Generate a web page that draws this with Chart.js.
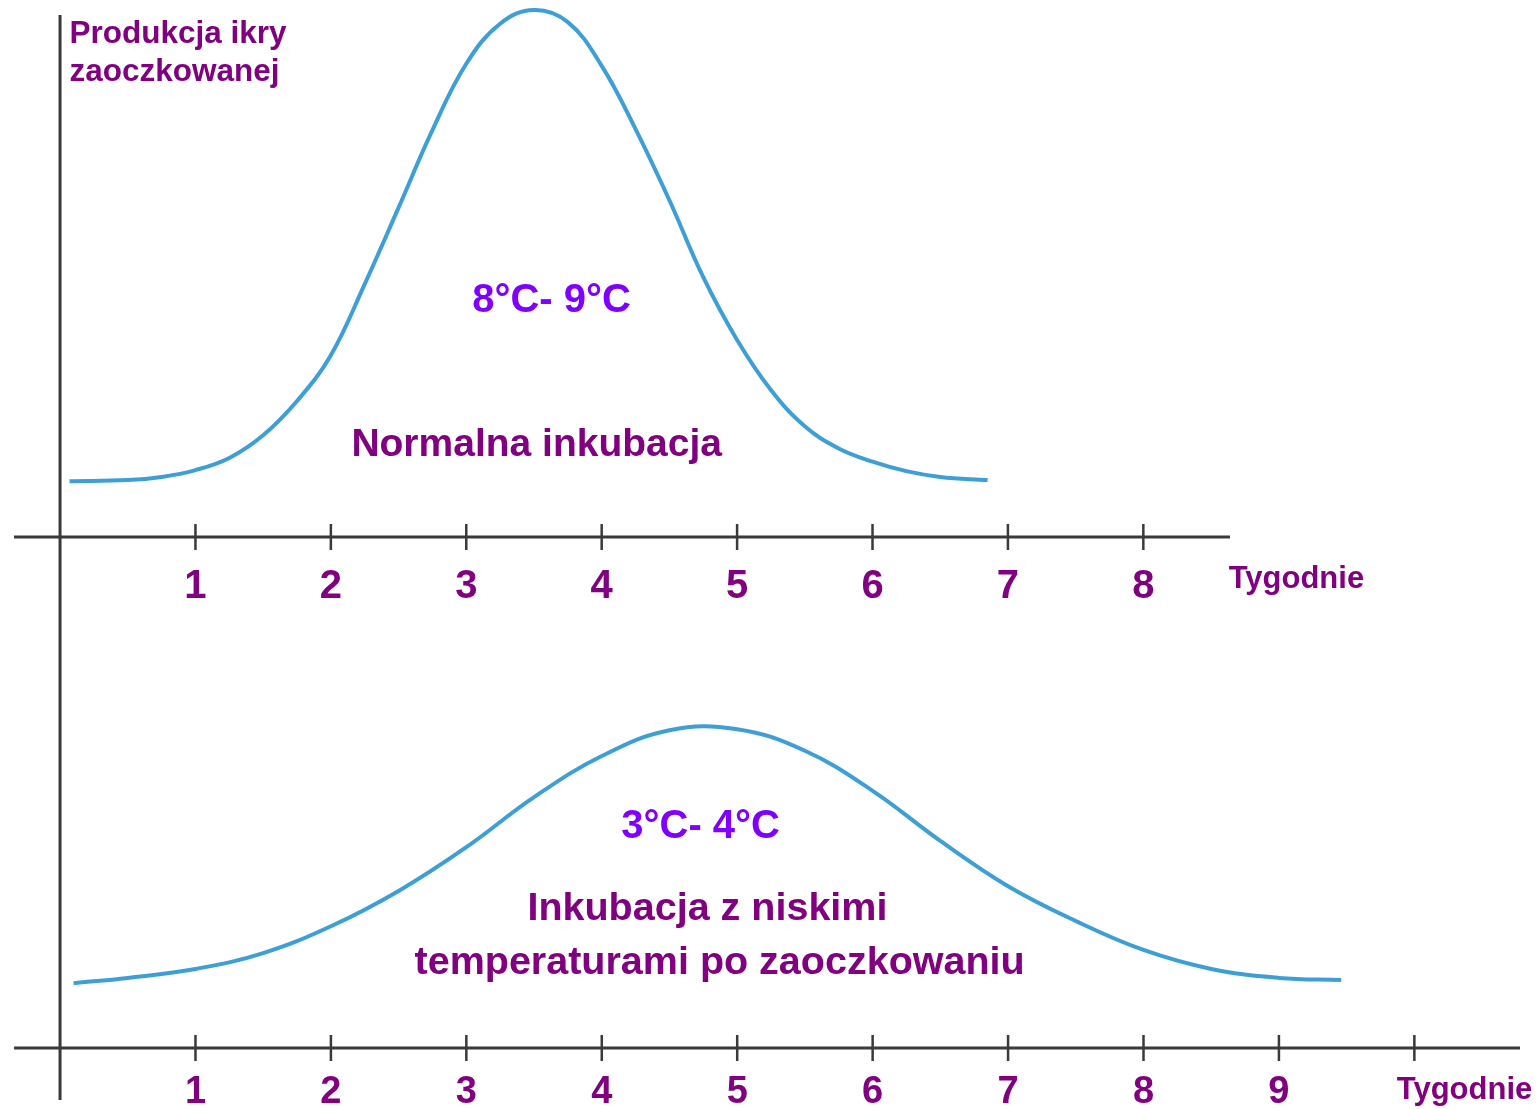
<!DOCTYPE html>
<html>
<head>
<meta charset="utf-8">
<script src="https://cdn.jsdelivr.net/npm/chart.js@4.4.1/dist/chart.umd.min.js"></script>
<style>
html, body { margin:0; padding:0; background:#fff; }
#wrap { position:relative; width:1539px; height:1109px; }
.box { position:absolute; left:0; width:1539px; }
#gora { top:0; height:640px; }
#dol { top:640px; height:469px; }
</style>
</head>
<body>
<div id="wrap">
	<div class="box" id="gora"><canvas id="wykresGora"></canvas></div>
	<div class="box" id="dol"><canvas id="wykresDol"></canvas></div>
</div>
<script>
// normalna inkubacja (8-9 C)
var tygodnieGora = [0.07, 0.5, 0.75, 1.0, 1.25, 1.5, 1.75, 2.0, 2.25, 2.5, 2.75, 3.0, 3.25, 3.5, 3.75, 4.0, 4.25, 4.5, 4.75, 5.0, 5.25, 5.5, 5.75, 6.0, 6.25, 6.5, 6.85];
var ikraGora = [10.6, 10.8, 11.4, 12.7, 15.0, 19.3, 25.8, 34.5, 48.0, 62.5, 77.2, 89.8, 97.4, 100, 97.7, 89.4, 77.4, 63.9, 49.3, 37.4, 27.9, 21.0, 16.8, 14.3, 12.5, 11.4, 10.8];

// inkubacja z niskimi temperaturami (3-4 C)
var tygodnieDol = [0.1, 0.5, 1.0, 1.5, 2.0, 2.5, 3.0, 3.5, 4.0, 4.5, 5.0, 5.5, 6.0, 6.5, 7.0, 7.5, 8.0, 8.5, 9.0, 9.46];
var ikraDol = [12.3, 13.3, 15.0, 18.0, 23.1, 29.8, 38.1, 47.6, 55.4, 60.3, 60.5, 56.4, 48.8, 39.3, 30.7, 24.1, 18.6, 15.0, 13.3, 12.9];

var tickiGora = [1, 2, 3, 4, 5, 6, 7, 8];
var etykietyGora = ['1', '2', '3', '4', '5', '6', '7', '8'];
var tickiDol = [1, 2, 3, 4, 5, 6, 7, 8, 9, 10];
var etykietyDol = ['1', '2', '3', '4', '5', '6', '7', '8', '9', ''];

var FIOLET = '#800080';
var LILA = '#8000ff';
var NIEBIESKI = '#3d9fd6';
var FONT = "'Liberation Sans', Arial, sans-serif";

// osie krzyzujace sie w zerze + kreski podzialki
var osie = {
	id: 'osie',
	beforeDatasetsDraw: function(chart) {
		var ctx = chart.ctx, a = chart.chartArea;
		var sx = chart.scales.x, sy = chart.scales.y;
		var x0 = sx.getPixelForValue(0), y0 = sy.getPixelForValue(0);
		ctx.save();
		ctx.strokeStyle = '#3a3a3a';
		ctx.lineWidth = 3;
		ctx.beginPath();
		ctx.moveTo(a.left, y0); ctx.lineTo(a.right, y0);
		ctx.moveTo(x0, a.top); ctx.lineTo(x0, a.bottom);
		ctx.stroke();
		ctx.lineWidth = 2.5;
		ctx.beginPath();
		sx.ticks.forEach(function(t) {
			var px = sx.getPixelForValue(t.value);
			ctx.moveTo(px, y0 - 13); ctx.lineTo(px, y0 + 13);
		});
		ctx.stroke();
		ctx.restore();
	}
};

var napisy = {
	id: 'napisy',
	afterDatasetsDraw: function(chart, args, opts) {
		var ctx = chart.ctx, sx = chart.scales.x, sy = chart.scales.y;
		ctx.save();
		ctx.textBaseline = 'middle';
		(opts.lista || []).forEach(function(n) {
			ctx.font = 'bold ' + n.size + 'px ' + FONT;
			ctx.fillStyle = n.kolor;
			ctx.textAlign = n.align || 'center';
			ctx.fillText(n.tekst, sx.getPixelForValue(n.x), sy.getPixelForValue(n.y));
		});
		ctx.restore();
	}
};

function zrobWykres(id, tygodnie, ikra, ticki, etykiety, zakresX, zakresY, padding, tickPad, tickSize, lista) {
	var punkty = [];
	for (var i in tygodnie) {
		punkty.push({x: tygodnie[i], y: ikra[i]});
	}
	return new Chart(document.getElementById(id), {
		type: 'line',
		data: {
			datasets: [{
				data: punkty,
				borderColor: NIEBIESKI,
				borderWidth: 4,
				pointRadius: 0,
				tension: 0.4,
				fill: false,
				clip: false
			}]
		},
		options: {
			responsive: true,
			maintainAspectRatio: false,
			animation: false,
			events: [],
			layout: { padding: padding },
			plugins: {
				legend: { display: false },
				tooltip: { enabled: false },
				napisy: { lista: lista }
			},
			scales: {
				x: {
					type: 'linear',
					position: { y: 0 },
					min: zakresX[0],
					max: zakresX[1],
					afterBuildTicks: function(scale) {
						scale.ticks = ticki.map(function(v) { return {value: v}; });
					},
					grid: { display: false },
					border: { display: false },
					ticks: {
						autoSkip: false,
						maxRotation: 0,
						padding: tickPad,
						color: FIOLET,
						font: { family: FONT, size: tickSize, weight: 'bold' },
						callback: function(value, index) { return etykiety[index]; }
					}
				},
				y: {
					type: 'linear',
					display: false,
					min: zakresY[0],
					max: zakresY[1]
				}
			}
		},
		plugins: [osie, napisy]
	});
}

zrobWykres('wykresGora', tygodnieGora, ikraGora, tickiGora, etykietyGora,
	[-0.34, 8.64], [-19.54, 99.05],
	{ left: 14, right: 309, top: 15, bottom: 0 }, 18, 40,
	[
		{ tekst: 'Produkcja ikry', x: 0.07, y: 95.3, size: 31.5, kolor: FIOLET, align: 'left' },
		{ tekst: 'zaoczkowanej', x: 0.07, y: 88.2, size: 31.5, kolor: FIOLET, align: 'left' },
		{ tekst: '8°C- 9°C', x: 3.63, y: 44.8, size: 40, kolor: LILA },
		{ tekst: 'Normalna inkubacja', x: 3.52, y: 17.5, size: 39, kolor: FIOLET },
		{ tekst: 'Tygodnie', x: 8.63, y: -8.0, size: 31, kolor: FIOLET, align: 'left' }
	]);

zrobWykres('wykresDol', tygodnieDol, ikraDol, tickiDol, etykietyDol,
	[-0.34, 10.78], [-9.87, 77.42],
	{ left: 14, right: 19, top: 0, bottom: 9 }, 14, 38,
	[
		{ tekst: '3°C- 4°C', x: 4.73, y: 41.9, size: 40, kolor: LILA },
		{ tekst: 'Inkubacja z niskimi', x: 4.78, y: 26.4, size: 39.5, kolor: FIOLET },
		{ tekst: 'temperaturami po zaoczkowaniu', x: 4.87, y: 16.1, size: 39.5, kolor: FIOLET },
		{ tekst: 'Tygodnie', x: 9.87, y: -8.1, size: 31, kolor: FIOLET, align: 'left' }
	]);
</script>
</body>
</html>
